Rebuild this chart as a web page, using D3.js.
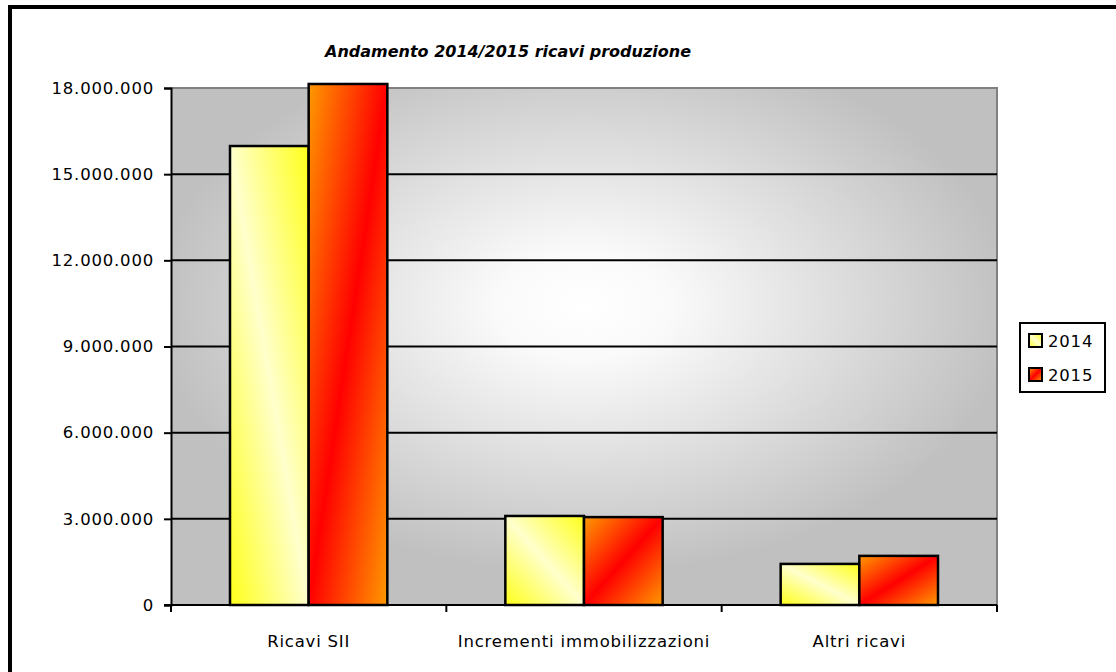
<!DOCTYPE html>
<html>
<head>
<meta charset="utf-8">
<script src="https://cdn.jsdelivr.net/npm/d3@7/dist/d3.min.js"></script>
<style>
  html, body { margin: 0; padding: 0; background: #fff; }
  svg { display: block; }
  text { font-family: "DejaVu Sans", "Liberation Sans", sans-serif; fill: #000; }
  .lbl { font-size: 16.5px; letter-spacing: 0.8px; }
</style>
</head>
<body>
<svg id="chart" width="1116" height="672"></svg>
<script>
// Revenue categories and yearly values (euro)
const categories = ["Ricavi SII", "Incrementi immobilizzazioni", "Altri ricavi"];
const years = ["2014", "2015"];
const values2014 = [15980000, 3100000, 1430000];
const values2015 = [18140000, 3060000, 1710000];
const yTicks = [0, 3000000, 6000000, 9000000, 12000000, 15000000, 18000000];
const titleText = "Andamento 2014/2015 ricavi produzione";

const svg = d3.select("#chart");
const W = 1116, H = 672;
const plot = { left: 171, top: 88, right: 997, bottom: 605 };

const defs = svg.append("defs");

// Plot background: grey edges fading to white towards the centre
const bg = defs.append("radialGradient").attr("id", "bgGrad")
  .attr("cx", "0.5").attr("cy", "0.42").attr("r", "0.52");
bg.append("stop").attr("offset", "0").attr("stop-color", "#ffffff");
bg.append("stop").attr("offset", "0.2").attr("stop-color", "#fafafa");
bg.append("stop").attr("offset", "1").attr("stop-color", "#c0c0c0");

// Diagonal three-stop fills for the two series
function diagGrad(id, edge, mid, x1, y1, x2, y2) {
  const g = defs.append("linearGradient").attr("id", id)
    .attr("x1", x1).attr("y1", y1).attr("x2", x2).attr("y2", y2);
  g.append("stop").attr("offset", "0").attr("stop-color", edge);
  g.append("stop").attr("offset", "0.5").attr("stop-color", mid);
  g.append("stop").attr("offset", "1").attr("stop-color", edge);
}
diagGrad("g2014", "#ffff1a", "#ffffcc", 0, 1, 1, 0);
diagGrad("g2015", "#ff9900", "#ff0000", 0, 0, 1, 1);
const fills = { "2014": "url(#g2014)", "2015": "url(#g2015)" };

// Outer chart frame
svg.append("rect").attr("x", 10).attr("y", 7)
  .attr("width", W + 20).attr("height", H + 20)
  .attr("fill", "#fff").attr("stroke", "#000").attr("stroke-width", 4);

// Scales
const x0 = d3.scaleBand().domain(categories).range([plot.left, plot.right]).paddingInner(0).paddingOuter(0);
const x1 = d3.scaleBand().domain(years).range([0, x0.bandwidth()]).paddingInner(0).paddingOuter(0.75);
const y = d3.scaleLinear().domain([0, 18000000]).range([plot.bottom, plot.top]);

// Plot area
svg.append("rect")
  .attr("x", plot.left).attr("y", plot.top)
  .attr("width", plot.right - plot.left).attr("height", plot.bottom - plot.top)
  .attr("fill", "url(#bgGrad)");
// grey border on top and right of the plot area
svg.append("path")
  .attr("d", `M${plot.left},${plot.top}H${plot.right}V${plot.bottom}`)
  .attr("fill", "none").attr("stroke", "#808080").attr("stroke-width", 2);

// Gridlines
svg.append("g").selectAll("line").data(yTicks.filter(d => d > 0 && d < 18000000)).join("line")
  .attr("x1", plot.left).attr("x2", plot.right)
  .attr("y1", d => y(d)).attr("y2", d => y(d))
  .attr("stroke", "#000").attr("stroke-width", 2);

// Bars
const fmt = d3.formatLocale({ decimal: ",", thousands: ".", grouping: [3], currency: ["€", ""] }).format(",d");
const series = { "2014": values2014, "2015": values2015 };
const groups = svg.append("g").selectAll("g").data(categories).join("g")
  .attr("transform", d => `translate(${x0(d)},0)`);
groups.selectAll("rect").data((c, i) => years.map(yr => ({ yr, v: series[yr][i] }))).join("rect")
  .attr("x", d => x1(d.yr))
  .attr("y", d => y(d.v))
  .attr("width", x1.bandwidth())
  .attr("height", d => y(0) - y(d.v))
  .attr("fill", d => fills[d.yr])
  .attr("stroke", "#000").attr("stroke-width", 2.5);

// Y axis
const yAxis = svg.append("g").attr("transform", `translate(${plot.left},0)`)
  .call(d3.axisLeft(y).tickValues(yTicks).tickSize(7).tickPadding(10).tickFormat(fmt));
yAxis.select(".domain").attr("stroke", "#000").attr("stroke-width", 2);
yAxis.selectAll(".tick line").attr("stroke", "#000").attr("stroke-width", 2);
yAxis.selectAll("text").attr("class", "lbl").attr("font-size", null).attr("font-family", null).attr("fill", "#000");

// X axis with ticks on category boundaries
const xAxis = svg.append("g").attr("transform", `translate(0,${plot.bottom})`);
xAxis.append("line").attr("x1", plot.left - 7).attr("x2", plot.right)
  .attr("stroke", "#000").attr("stroke-width", 2);
const bounds = categories.map(c => x0(c)).concat([plot.right]);
xAxis.selectAll(".bt").data(bounds).join("line").attr("class", "bt")
  .attr("x1", d => d).attr("x2", d => d).attr("y1", 0).attr("y2", 7)
  .attr("stroke", "#000").attr("stroke-width", 2);
xAxis.selectAll("text").data(categories).join("text").attr("class", "lbl")
  .attr("x", d => x0(d) + x0.bandwidth() / 2).attr("y", 42)
  .attr("text-anchor", "middle").text(d => d);

// Title
svg.append("text").attr("x", 508).attr("y", 57).attr("text-anchor", "middle")
  .style("font-size", "16px").style("font-weight", "bold").style("font-style", "italic")
  .text(titleText);

// Legend
const lg = svg.append("g").attr("transform", "translate(1020,323)");
lg.append("rect").attr("width", 85).attr("height", 69)
  .attr("fill", "#fff").attr("stroke", "#000").attr("stroke-width", 2);
const items = lg.selectAll("g").data(years).join("g")
  .attr("transform", (d, i) => `translate(9,${11 + i * 34})`);
items.append("rect").attr("width", 13).attr("height", 13)
  .attr("fill", d => fills[d]).attr("stroke", "#000").attr("stroke-width", 2);
items.append("text").attr("class", "lbl").attr("x", 19).attr("y", 13).text(d => d);
</script>
</body>
</html>
